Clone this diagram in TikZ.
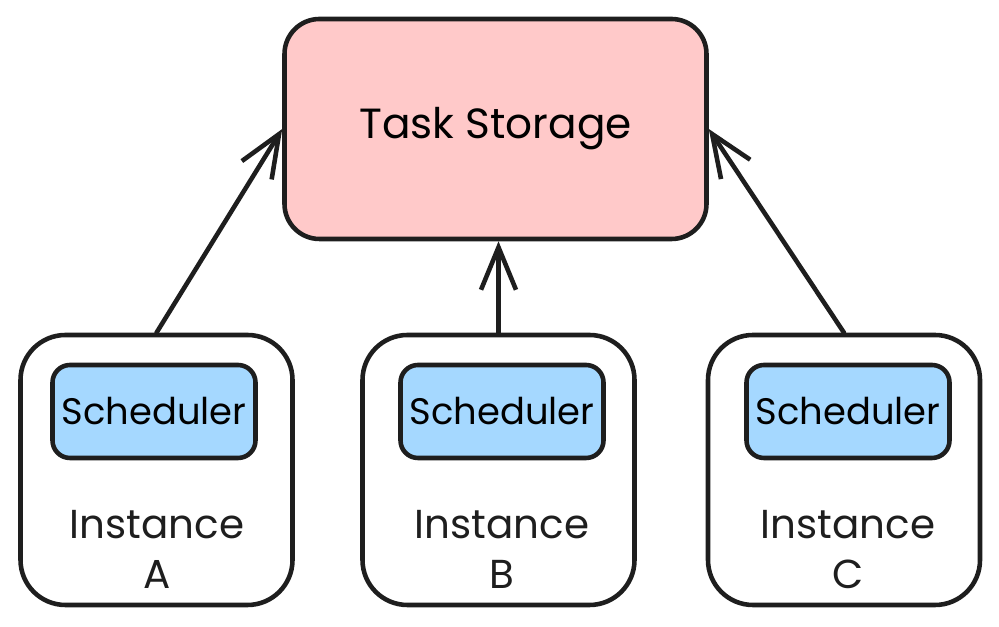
\documentclass[tikz,border=0pt]{standalone}
\usepackage{fontspec}
\setmainfont{Poppins}
\usetikzlibrary{arrows.meta}

\definecolor{ink}{HTML}{1E1E1E}
\definecolor{storagepink}{HTML}{FFC9C9}
\definecolor{schedblue}{HTML}{A5D8FF}

\tikzset{
    box/.style={draw=ink, line width=2.6pt, rounded corners=0.9cm, fill=white,
        minimum width=5.44cm, minimum height=5.4cm},
    storagebox/.style={draw=ink, line width=2.6pt, rounded corners=0.7cm, fill=storagepink,
        minimum width=8.44cm, minimum height=4.4cm, font=\fontsize{24}{28}\selectfont},
    schedbox/.style={draw=ink, line width=2.6pt, rounded corners=0.35cm, fill=schedblue,
        minimum width=4.06cm, minimum height=1.86cm, font=\fontsize{21}{25}\selectfont},
    label/.style={align=center, font=\fontsize{23}{28.5}\selectfont, text=ink},
    link/.style={draw=ink, line width=2.6pt, line cap=round,
        -{Straight Barb[length=0.85cm, width=0.7cm, line width=2.6pt]}}
}

\begin{document}
\begin{tikzpicture}

    \useasboundingbox (0,0) rectangle (19.98,12.54);

    \node[storagebox] (store) at (9.91,9.96) {Task Storage};

    \node[box] (instA) at (3.13,3.14) {};
    \node[box] (instB) at (9.97,3.14) {};
    \node[box] (instC) at (16.88,3.14) {};

    \node[schedbox] (schedA) at (3.08,4.31) {Scheduler};
    \node[schedbox] (schedB) at (10.04,4.31) {Scheduler};
    \node[schedbox] (schedC) at (16.96,4.31) {Scheduler};

    \node[label] (nameA) at (3.14,1.55) {Instance\\A};
    \node[label] (nameB) at (10.04,1.55) {Instance\\B};
    \node[label] (nameC) at (16.96,1.55) {Instance\\C};

    \draw[link] (instA.north) -- (store.west);
    \draw[link] (instB.north) -- (instB.north |- store.south);
    \draw[link] (instC.north) -- (store.east);

\end{tikzpicture}
\end{document}
